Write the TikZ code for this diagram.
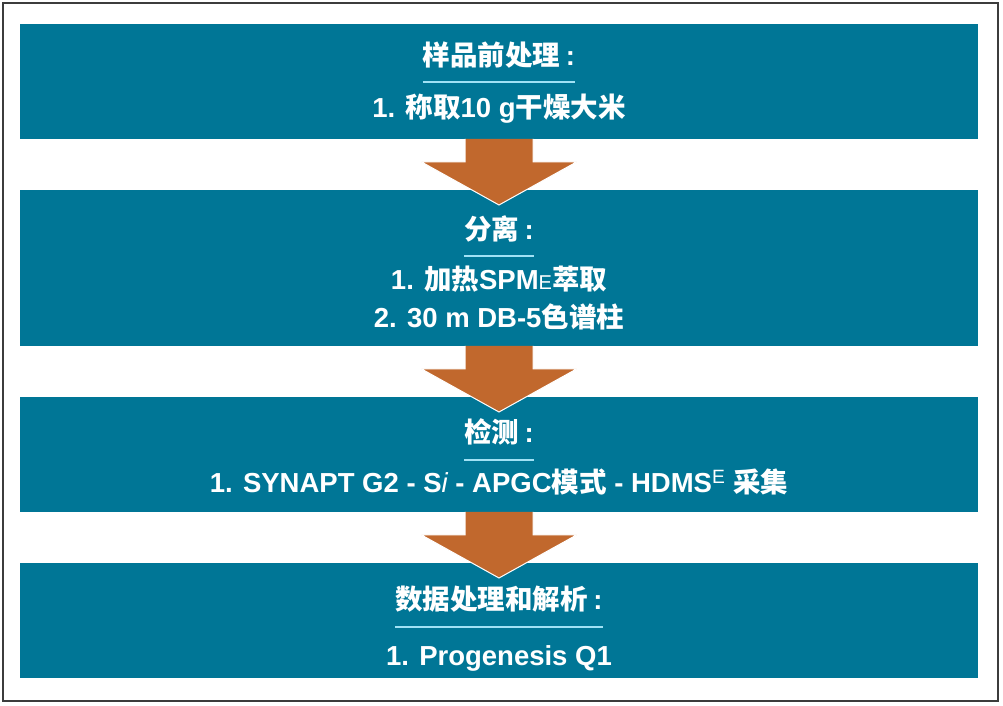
\documentclass[tikz,border=0pt]{standalone}
\usepackage{fontspec}
\setmainfont{Liberation Sans}
\newfontfamily\cjkb{Noto Sans CJK SC Bold}
\newcommand{\zh}[1]{{\cjkb #1}}
\newcommand{\colonmark}{\hspace{.2em}:}
\definecolor{boxColor}{RGB}{0,118,150}
\definecolor{arrowColor}{RGB}{193,104,45}
\definecolor{ruleColor}{RGB}{160,225,245}
\definecolor{frameColor}{RGB}{60,60,60}
\tikzset{
  stage/.style={fill=boxColor,minimum width=958pt,inner sep=0pt,outer sep=0pt},
  ttl/.style={text=white,anchor=base,inner sep=0pt,outer sep=0pt,font=\bfseries\fontsize{27.5}{33}\selectfont},
  item/.style={ttl},
  rule/.style={draw=ruleColor,line width=2pt},
  flowarrow/.style={fill=arrowColor,draw=white,line width=1pt,line join=miter}
}
\begin{document}
\begin{tikzpicture}[x=1pt,y=1pt]
\path[use as bounding box,fill=white] (0,0) rectangle (1003,706);
\draw[draw=frameColor,line width=1.6pt] (3,5) rectangle (998,703);

\node[stage,minimum height=115pt] (prep) at (499,624.5) {};
\node[stage,minimum height=156pt] (sep) at (499,438) {};
\node[stage,minimum height=115pt] (det) at (499,251.5) {};
\node[stage,minimum height=115pt] (data) at (499,85.5) {};

\foreach \a in {prep,sep,det}{
  \filldraw[flowarrow] (\a.south) ++(-34,0) -- ++(0,-23) -- ++(-43.5,0) -- ++(77.5,-43)
    -- ++(77.5,43) -- ++(-43.5,0) -- ++(0,23);
}

\node[ttl] (prepT) at (499,640) {\zh{样品前处理}\colonmark};
\draw[rule] ([yshift=-16pt]prepT.base west) -- ([yshift=-16pt]prepT.base east);
\node[item] (prepA) at (499,588) {1. \zh{称取}10 g\zh{干燥大米}};

\node[ttl] (sepT) at (499,466) {\zh{分离}\colonmark};
\draw[rule] ([yshift=-16pt]sepT.base west) -- ([yshift=-16pt]sepT.base east);
\node[item] (sepA) at (499,416) {1. \zh{加热}SPM{\mdseries\fontsize{20}{24}\selectfont E}\zh{萃取}};
\node[item] (sepB) at (499,378) {2. 30 m DB-5\zh{色谱柱}};

\node[ttl] (detT) at (499,263) {\zh{检测}\colonmark};
\draw[rule] ([yshift=-17pt]detT.base west) -- ([yshift=-17pt]detT.base east);
\node[item] (detA) at (499,213) {1. SYNAPT G2 - S{\mdseries\itshape i} - APGC\zh{模式} - HDMS\textsuperscript{\mdseries E} \zh{采集}};

\node[ttl] (dataT) at (499,96) {\zh{数据处理和解析}\colonmark};
\draw[rule] ([yshift=-17pt]dataT.base west) -- ([yshift=-17pt]dataT.base east);
\node[item] (dataA) at (499,40) {1. Progenesis Q1};
\end{tikzpicture}
\end{document}
